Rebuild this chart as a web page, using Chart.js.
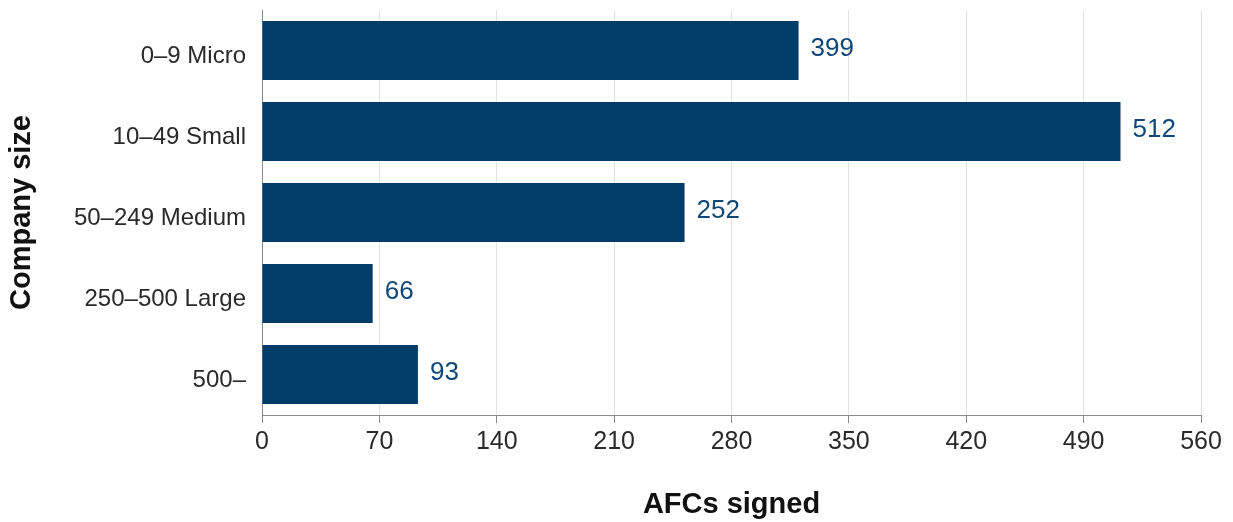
<!DOCTYPE html>
<html>
<head>
<meta charset="utf-8">
<script src="https://cdn.jsdelivr.net/npm/chart.js@4"></script>
<style>
  html, body { margin: 0; padding: 0; background: #fff; }
  #wrap { width: 1233px; height: 522px; }
</style>
</head>
<body>
<div id="wrap"><canvas id="myChart"></canvas></div>
<script>
const categories = ['0–9 Micro', '10–49 Small', '50–249 Medium', '250–500 Large', '500–'];
// bar lengths as drawn against the axis (the first bar is drawn shorter than its printed 399)
const barValues = [320, 512, 252, 66, 93];
// numbers printed next to the bars
const valueLabels = ['399', '512', '252', '66', '93'];
const xTicks = [0, 70, 140, 210, 280, 350, 420, 490, 560];

const fontFamily = "'Liberation Sans', Arial, sans-serif";

const barLabels = {
    id: 'barLabels',
    afterDatasetsDraw(chart) {
        const ctx = chart.ctx;
        const meta = chart.getDatasetMeta(0);
        ctx.save();
        ctx.font = '26px ' + fontFamily;
        ctx.fillStyle = '#0f4778';
        ctx.textAlign = 'left';
        ctx.textBaseline = 'middle';
        meta.data.forEach(function (bar, i) {
            ctx.fillText(valueLabels[i], bar.x + 12, bar.y - 2);
        });
        ctx.restore();
    }
};

const ctx = document.getElementById('myChart').getContext('2d');
const myChart = new Chart(ctx, {
    type: 'bar',
    data: {
        labels: categories,
        datasets: [{
            data: barValues,
            backgroundColor: '#023d6a',
            barPercentage: 0.73,
            categoryPercentage: 1
        }]
    },
    options: {
        indexAxis: 'y',
        responsive: true,
        maintainAspectRatio: false,
        animation: false,
        layout: { padding: { top: 10, right: 32, bottom: 0, left: 0 } },
        plugins: {
            legend: { display: false },
            tooltip: { enabled: false }
        },
        scales: {
            x: {
                min: 0,
                max: 560,
                afterBuildTicks: function (scale) {
                    scale.ticks = xTicks.map(function (v) { return { value: v }; });
                },
                afterFit: function (scale) { scale.height = 107; },
                grid: {
                    color: '#e2e2e2',
                    tickColor: '#8a8a8a',
                    tickLength: 8,
                    drawTicks: true
                },
                border: { display: true, color: '#8a8a8a' },
                ticks: {
                    color: '#2a2a2a',
                    font: { family: fontFamily, size: 25 },
                    padding: 4
                },
                title: {
                    display: true,
                    text: 'AFCs signed',
                    color: '#111',
                    font: { family: fontFamily, size: 29, weight: 'bold' },
                    padding: { top: 30, bottom: 0 }
                }
            },
            y: {
                afterFit: function (scale) {
                    scale.width = 262;
                    scale.paddingTop = 0;
                    scale.paddingBottom = 0;
                },
                grid: { display: false, drawTicks: false },
                border: { display: true, color: '#8a8a8a' },
                ticks: {
                    color: '#2a2a2a',
                    font: { family: fontFamily, size: 24 },
                    padding: 16,
                    labelOffset: 6
                },
                title: {
                    display: true,
                    text: 'Company size',
                    color: '#111',
                    font: { family: fontFamily, size: 29, weight: 'bold' },
                    padding: { top: 5, bottom: 0 }
                }
            }
        }
    },
    plugins: [barLabels]
});
</script>
</body>
</html>
